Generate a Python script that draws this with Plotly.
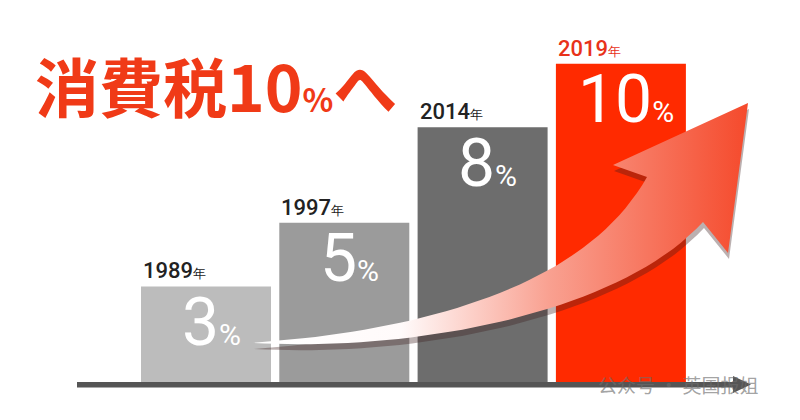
import plotly.graph_objects as go

# ---- data ----
years = ["1989", "1997", "2014", "2019"]
rates = [3, 5, 8, 10]
bar_colors = ["#bcbcbc", "#9b9b9b", "#6d6d6d", "#ff2a00"]
year_colors = ["#222222", "#222222", "#222222", "#e8321a"]
title_main = "消費税10"
title_pct = "%"
title_tail = "へ"
watermark = "公众号 · 英国报姐"

# ---- geometry helpers (pixel -> data for decorations) ----
X0, XS = 206.0, 138.3   # px of first bar centre, px per category
Y0, YS = 382.0, 31.83   # px of baseline, px per percentage point
YMIN = -0.6
BOTTOM_PX = Y0 - YMIN * YS
def px2x(p): return (p - X0) / XS
def px2y(p): return (Y0 - p) / YS
def px2paper_y(p): return (BOTTOM_PX - p) / BOTTOM_PX

def bezier(p0, p1, p2, p3, n=40):
    pts = []
    for k in range(n + 1):
        t = k / n
        a, b, c, d = (1 - t) ** 3, 3 * (1 - t) ** 2 * t, 3 * (1 - t) * t ** 2, t ** 3
        pts.append((a * p0[0] + b * p1[0] + c * p2[0] + d * p3[0],
                    a * p0[1] + b * p1[1] + c * p2[1] + d * p3[1]))
    return pts

xi = list(range(len(years)))

fig = go.Figure()
fig.add_trace(go.Bar(x=xi, y=rates, marker=dict(color=bar_colors, line=dict(width=0)),
                     width=0.94, hoverinfo="skip"))

# arrow outline (decoration), in pixels
upper = bezier((253, 343), (420, 331), (585, 288), (647, 177))
head = [(613, 165), (748, 103), (728, 253)]
lower = bezier((703, 222), (615, 318), (400, 352), (253, 343))
outline = upper + head + lower

# shadow
sh = [(x + 1, y + 6) for (x, y) in outline]
fig.add_trace(go.Scatter(x=[px2x(p[0]) for p in sh], y=[px2y(p[1]) for p in sh],
                         mode="lines", fill="toself", line=dict(width=0),
                         fillcolor="rgba(60,30,30,0.35)", hoverinfo="skip"))
fig.add_trace(go.Scatter(x=[px2x(p[0]) for p in outline], y=[px2y(p[1]) for p in outline],
                         mode="lines", fill="toself", line=dict(width=0),
                         fillgradient=dict(type="horizontal",
                                           colorscale=[[0, "#ffffff"], [0.3, "#fffafa"],
                                                       [0.6, "#f9a090"], [1, "#f54a2c"]]),
                         hoverinfo="skip"))

shapes = [
    dict(type="rect", xref="x", yref="y", x0=px2x(77), x1=px2x(735), y0=px2y(382), y1=px2y(387.5),
         fillcolor="#555555", line=dict(width=0), layer="above"),
    dict(type="path", xref="x", yref="y",
         path=f"M {px2x(733)} {px2y(376)} L {px2x(751)} {px2y(384.5)} L {px2x(733)} {px2y(393)} Z",
         fillcolor="#555555", line=dict(width=0), layer="above"),
]

annotations = []
for i, (yr, r) in enumerate(zip(years, rates)):
    annotations.append(dict(
        x=i - 0.47, y=r, xref="x", yref="y", xanchor="left", yanchor="bottom",
        text=f"{yr}<span style='font-size:13px'>年</span>", showarrow=False,
        font=dict(family="Roboto", size=22, color=year_colors[i], weight=500),
        xshift=0, yshift=1))
    annotations.append(dict(
        x=i, y=r, xref="x", yref="y", xanchor="center", yanchor="middle",
        text=f"{r}<span style='font-size:30px'>%</span>", showarrow=False,
        font=dict(family="Roboto", size=66, color="#ffffff"),
        xshift=5, yshift=-36))

annotations.append(dict(
    x=33 / 800, y=px2paper_y(84), xref="paper", yref="paper", xanchor="left", yanchor="middle",
    text=f"{title_main}<span style='font-size:32px'>{title_pct}</span>{title_tail}",
    showarrow=False, font=dict(family="Noto Sans CJK JP", size=64, color="#f03a17", weight="bold")))

annotations.append(dict(
    x=596 / 800, y=px2paper_y(385), xref="paper", yref="paper", xanchor="left", yanchor="middle",
    text=watermark, showarrow=False,
    font=dict(family="Noto Sans CJK SC", size=19, color="rgba(110,110,110,0.65)")))

fig.update_layout(
    width=800, height=420, margin=dict(l=0, r=0, t=0, b=420 - BOTTOM_PX),
    paper_bgcolor="white", plot_bgcolor="white", showlegend=False,
    xaxis=dict(range=[px2x(0), px2x(800)], visible=False, fixedrange=True),
    yaxis=dict(range=[YMIN, Y0 / YS], visible=False, fixedrange=True),
    shapes=shapes, annotations=annotations,
)
fig.write_html("out.html", config={"displayModeBar": False},
               post_script="document.body.style.margin='0';")
